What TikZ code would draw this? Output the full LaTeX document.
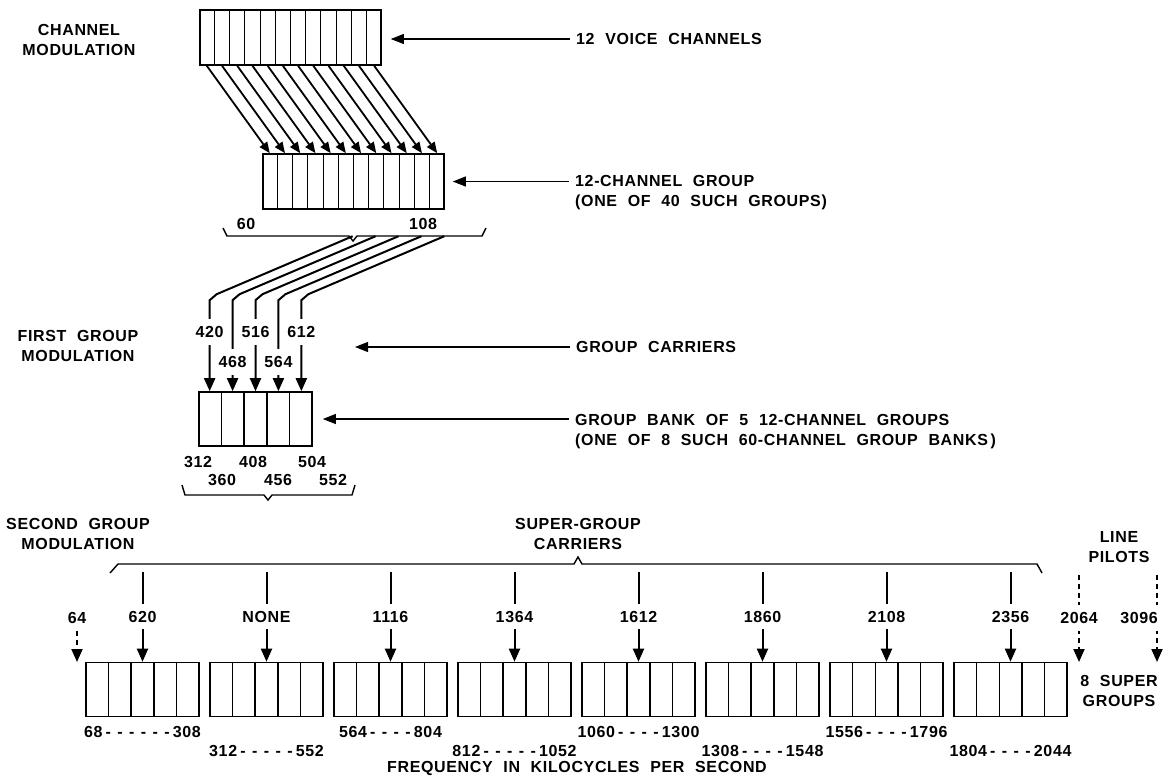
\documentclass[tikz,border=0pt]{standalone}
\usepackage{fontspec}
\setmainfont{Liberation Sans}[LetterSpace=4,WordSpace=2.1]
\usepackage{tikz}
\usetikzlibrary{calc,arrows.meta}

% dividers of a box node into #2 cells
\newcommand{\cells}[2]{%
  \pgfmathtruncatemacro\ncl{#2-1}%
  \foreach \c in {1,...,\ncl}{%
    \draw[cell] ($(#1.north west)!{\c/#2}!(#1.north east)$) -- ($(#1.south west)!{\c/#2}!(#1.south east)$);}}
% band edges with dashes between
\newcommand{\rng}[3]{#1\foreach \d in {1,...,#2}{\kern3.2pt-\kern3.2pt}#3}

\begin{document}
\begin{tikzpicture}[x=1pt, y=-1pt,
    lbl/.style={font=\bfseries\fontsize{16}{20}\selectfont, inner sep=1pt},
    num/.style={lbl, fill=white, inner xsep=2pt, inner ysep=7pt},
    box/.style={draw, line width=1.6pt, minimum width=113pt, minimum height=54pt, inner sep=0pt},
    wide/.style={box, minimum width=181pt, minimum height=55pt},
    cell/.style={line width=1.1pt},
    diag/.style={line width=1.8pt, -{Triangle[length=11pt,width=9pt]}},
    carr/.style={line width=2pt, -{Triangle[length=13pt,width=11pt]}},
    pilot/.style={carr, dash pattern=on 5pt off 4pt},
    ptr/.style={line width=1.1pt, -{Triangle[length=13pt,width=10pt]}},
    brc/.style={line width=1.4pt, line join=miter}]

    \useasboundingbox (0,0) rectangle (1172,777);

    % Channel modulation
    \node[lbl, align=center] (chmod) at (79,40) {CHANNEL\\MODULATION};
    \node[wide] (vc) at (290.5,37.5) {};
    \cells{vc}{12}
    \node[wide] (cg) at (353.5,181.5) {};
    \cells{cg}{12}
    \foreach \i in {1,...,12}{
        \coordinate (vc\i) at ($(vc.south west)!{(\i-0.5)/12}!(vc.south east)$);
        \coordinate (cg\i) at ($(cg.north west)!{(\i-0.5)/12}!(cg.north east)$);
        \draw[diag] (vc\i) -- (cg\i);
    }
    \node[lbl, anchor=west] (vcTxt) at (575,39) {12 VOICE CHANNELS};
    \draw[ptr, shorten <=5pt, shorten >=9pt] (vcTxt.west) -- (vcTxt.west -| vc.east);
    \node[lbl, anchor=west, align=left] (cgTxt) at (574,193) {12-CHANNEL GROUP\\(ONE OF 40 SUCH GROUPS)};
    \draw[ptr, shorten <=5pt, shorten >=8pt] (cgTxt.west |- cg.east) -- (cg.east);

    % Group band and brace
    \node[lbl] (f60) at (246,224) {60};
    \node[lbl] (f108) at (423,224) {108};
    \draw[brc] (223,228) -- (227,236) -- (349,236) -- (353,241) -- (357,236) -- (482,236) -- (486,228);

    % First group modulation
    \node[lbl, align=center] (fgmod) at (78,346) {FIRST GROUP\\MODULATION};
    \node[box] (gb) at (255.5,419) {};
    \cells{gb}{5}
    \foreach \f/\h [count=\i] in {420/332,468/362,516/332,564/362,612/332}{
        \coordinate (gb\i) at ($(gb.north west)!{(\i-0.5)/5}!(gb.north east)$);
        \draw[carr] ($(gb\i)+(143,-155)$) -- ($(gb\i)+(7,-97)$) -- ($(gb\i)+(0,-91)$) -- (gb\i);
        \node[num] (gc\i) at (gb\i |- 0,\h) {\f};
    }
    \node[lbl, anchor=west] (gcTxt) at (575,347) {GROUP CARRIERS};
    \coordinate (gcTip) at (355,347);
    \draw[ptr, shorten <=5pt] (gcTxt.west) -- (gcTip);
    \node[lbl, anchor=west, align=left] (gbTxt) at (574,432) {GROUP BANK OF 5 12-CHANNEL GROUPS\\(ONE OF 8 SUCH 60-CHANNEL GROUP BANKS\,)};
    \draw[ptr, shorten <=5pt, shorten >=10pt] (gbTxt.west |- gb.east) -- (gb.east);

    % Bank band edges
    \foreach \f/\xx/\yy in {312/198/462,408/253/462,504/312/462,360/222/480,456/278/480,552/333/480}
        \node[lbl] (e\f) at (\xx,\yy) {\f};
    \draw[brc] (182,485) -- (185,495) -- (264,495) -- (268,500) -- (272,495) -- (352,495) -- (355,485);

    % Second group modulation
    \node[lbl, align=center] (sgmod) at (78,534) {SECOND GROUP\\MODULATION};
    \node[lbl, align=center] (sgc) at (578,534) {SUPER-GROUP\\CARRIERS};
    \draw[brc] (110,573) -- (118,564) -- (574,564) -- (578,557) -- (582,564) -- (1037,564) -- (1042,573);
    \foreach \f [count=\k from 0] in {620,NONE,1116,1364,1612,1860,2108,2356}{
        \node[box] (sg\k) at (142.5+124*\k,689.5) {};
        \cells{sg\k}{5}
        \draw[carr] ($(sg\k.north)+(0,-90)$) -- (sg\k.north);
        \node[num] (sc\k) at ($(sg\k.north)+(0,-45)$) {\f};
    }

    % Super group bands
    \foreach \a/\n/\b [count=\k from 0] in {68/6/308,312/5/552,564/4/804,812/5/1052,1060/4/1300,1308/4/1548,1556/4/1796,1804/4/2044}{
        \pgfmathsetmacro\dy{mod(\k,2)==0 ? 15 : 34}
        \node[lbl] (r\k) at ($(sg\k.south)+(0,\dy)$) {\rng{\a}{\n}{\b}};
    }
    \node[lbl] (freq) at (577,768) {FREQUENCY IN KILOCYCLES PER SECOND};

    % Line pilots
    \node[lbl] (l64) at (77,618) {64};
    \coordinate (p64) at (77,662);
    \draw[pilot, shorten <=6pt] (l64.south) -- (p64);
    \node[lbl, align=center] (lp) at (1119,547) {LINE\\PILOTS};
    \node[lbl, align=center] (nsg) at (1119,691) {8 SUPER\\GROUPS};
    \coordinate (p1top) at (1079,575);
    \coordinate (p1) at (1079,662);
    \draw[pilot] (p1top) -- (p1);
    \node[num] (l2064) at (1079,618) {2064};
    \coordinate (p2top) at (1157,575);
    \coordinate (p2) at (1157,662);
    \draw[pilot] (p2top) -- (p2);
    \node[num] (l3096) at (1139,618) {3096};
\end{tikzpicture}
\end{document}
